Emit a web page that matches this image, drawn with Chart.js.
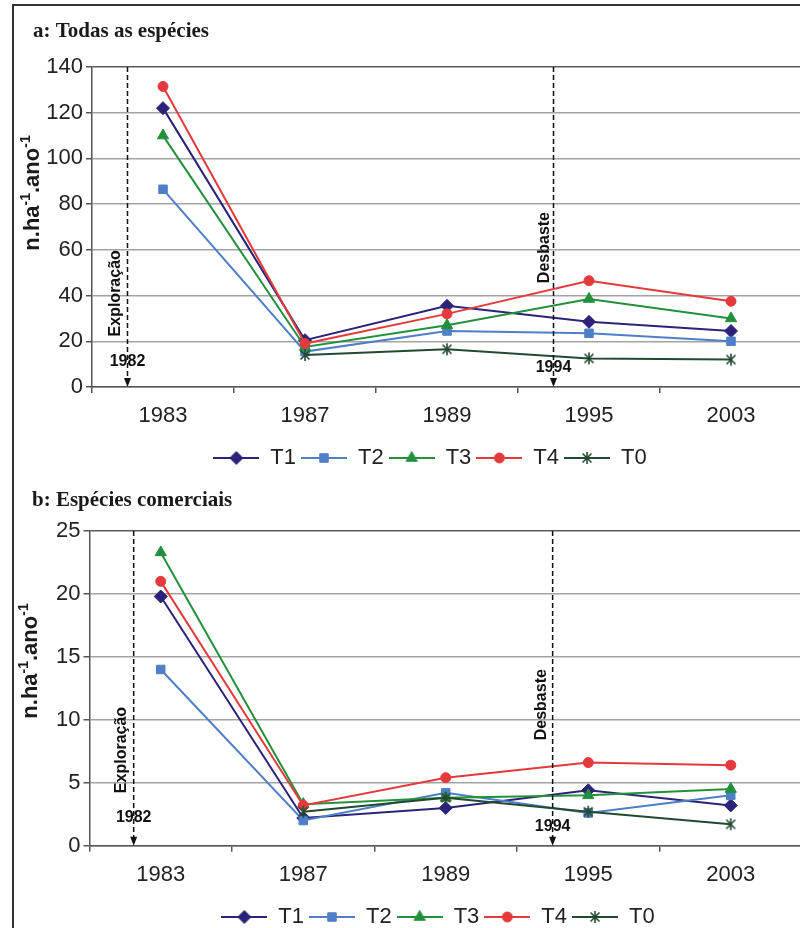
<!DOCTYPE html>
<html>
<head>
<meta charset="utf-8">
<script src="https://cdn.jsdelivr.net/npm/chart.js@4.4.1/dist/chart.umd.min.js"></script>
<style>
  html, body { margin: 0; padding: 0; width: 800px; height: 928px; overflow: hidden; background: #fff; }
  #frame { position: absolute; left: 12px; top: 4px; width: 1000px; height: 1000px;
           border-left: 2px solid #333; border-top: 2px solid #333; }
  canvas { position: absolute; left: 0; top: 0; }
</style>
</head>
<body>
<div id="frame"></div>
<canvas id="chartA" width="860" height="484"></canvas>
<canvas id="chartB" width="860" height="943"></canvas>
<script>
// Survey years (categories)
const years = ['1983', '1987', '1989', '1995', '2003'];
const seriesNames = ['T1', 'T2', 'T3', 'T4', 'T0'];

// a: Todas as espécies (n.ha-1.ano-1)
const allT1 = [122, 20.5, 35.5, 28.5, 24.5];
const allT2 = [86.5, 15.5, 24.5, 23.5, 20];
const allT3 = [110, 17.5, 27, 38.5, 30];
const allT4 = [131.5, 19, 32, 46.5, 37.5];
const allT0 = [null, 14, 16.5, 12.5, 12];
const allTicks = [0, 20, 40, 60, 80, 100, 120, 140];

// b: Espécies comerciais (n.ha-1.ano-1)
const comT1 = [19.8, 2.2, 3.0, 4.4, 3.2];
const comT2 = [14.0, 2.0, 4.2, 2.6, 4.0];
const comT3 = [23.3, 3.3, 3.8, 4.0, 4.5];
const comT4 = [21.0, 3.2, 5.4, 6.6, 6.4];
const comT0 = [null, 2.7, 3.8, 2.7, 1.7];
const comTicks = [0, 5, 10, 15, 20, 25];

// Interventions
const eventYears = ['1982', '1994'];
const eventNames = ['Exploração', 'Desbaste'];

const FONT = 'Liberation Sans';

// Six-armed asterisk marker for T0
function asterisk(color, r) {
  const s = Math.ceil(r * 2 + 4);
  const c = document.createElement('canvas');
  c.width = s; c.height = s;
  const g = c.getContext('2d');
  g.strokeStyle = color; g.lineWidth = 1.6; g.lineCap = 'butt';
  const m = s / 2;
  g.beginPath();
  g.moveTo(m, m - r); g.lineTo(m, m + r);
  const d = r * Math.SQRT1_2 * 1.05;
  g.moveTo(m - d, m - d); g.lineTo(m + d, m + d);
  g.moveTo(m - d, m + d); g.lineTo(m + d, m - d);
  g.stroke();
  return c;
}

const seriesStyle = [
  { color: '#2a2379', point: 'rectRot', r: 6.5 },
  { color: '#4f7fc6', point: 'rect', r: 6 },
  { color: '#23903c', point: 'triangle', r: 6.5 },
  { color: '#e53a3c', point: 'circle', r: 5 },
  { color: '#234a31', point: null, r: 6 }
];
seriesStyle[4].point = asterisk(seriesStyle[4].color, seriesStyle[4].r);

// Legend swatch: a short line with the series marker in the middle
function makeIcon(st) {
  const c = document.createElement('canvas');
  c.width = 46; c.height = 16;
  const g = c.getContext('2d');
  g.strokeStyle = st.color; g.fillStyle = st.color; g.lineWidth = 2;
  g.beginPath(); g.moveTo(0, 8); g.lineTo(46, 8); g.stroke();
  g.lineWidth = 1;
  if (typeof st.point === 'string') {
    Chart.helpers.drawPoint(g, { pointStyle: st.point, radius: st.r, rotation: 0, borderWidth: 1 }, 23, 8);
  } else {
    g.drawImage(st.point, 23 - st.point.width / 2, 8 - st.point.height / 2);
  }
  return c;
}

function makeDatasets(values) {
  return values.map((v, i) => {
    const st = seriesStyle[i];
    return {
      label: seriesNames[i],
      data: v,
      borderColor: st.color,
      backgroundColor: st.color,
      borderWidth: 2,
      pointStyle: st.point,
      pointRadius: st.r,
      pointBorderWidth: 1,
      pointBackgroundColor: st.color,
      pointBorderColor: st.color,
      spanGaps: false,
      tension: 0,
      order: 4 - i
    };
  });
}

// Title, rotated y-axis title with superscripts, intervention markers, legend offset
function decorPlugin(cfg) {
  return {
    id: 'decor',
    afterLayout(chart) {
      if (chart.legend) {
        chart.legend.left += cfg.legendDx;
        chart.legend.right += cfg.legendDx;
      }
    },
    afterDatasetsDraw(chart) {
      const { ctx, chartArea, scales } = chart;
      const x = scales.x, y = scales.y;
      ctx.save();
      cfg.marks.forEach(m => {
        const px = x.getPixelForValue(m.at);
        const bottom = chartArea.bottom;
        // dashed line with arrow head
        ctx.strokeStyle = '#111'; ctx.lineWidth = 1.5;
        ctx.setLineDash([5, 3]);
        ctx.beginPath(); ctx.moveTo(px, chartArea.top); ctx.lineTo(px, bottom - 8); ctx.stroke();
        ctx.setLineDash([]);
        ctx.fillStyle = '#111';
        ctx.beginPath(); ctx.moveTo(px - 3.5, bottom - 9); ctx.lineTo(px + 3.5, bottom - 9); ctx.lineTo(px, bottom); ctx.closePath(); ctx.fill();
        // year
        ctx.font = 'bold 16px "' + FONT + '"';
        ctx.textAlign = 'center'; ctx.textBaseline = 'middle';
        ctx.fillText(m.year, px, bottom - m.yearLift);
        // rotated name
        ctx.save();
        ctx.translate(px + m.nameDx, y.getPixelForValue(m.nameAt));
        ctx.rotate(-Math.PI / 2);
        ctx.fillText(m.name, 0, 0);
        ctx.restore();
      });
      ctx.restore();
    },
    afterDraw(chart) {
      const ctx = chart.ctx;
      ctx.save();
      ctx.fillStyle = '#1a1a1a';
      ctx.font = 'bold 21px "Liberation Serif"';
      ctx.textAlign = 'left'; ctx.textBaseline = 'alphabetic';
      ctx.fillText(cfg.title, cfg.titleX, cfg.titleY);
      // y-axis title: n.ha-1.ano-1
      const parts = [['n.ha', false], ['-1', true], ['.ano', false], ['-1', true]];
      const big = 'bold 22px "' + FONT + '"', small = 'bold 14px "' + FONT + '"';
      let total = 0;
      parts.forEach(p => { ctx.font = p[1] ? small : big; total += ctx.measureText(p[0]).width; });
      ctx.translate(cfg.yTitleX, cfg.yTitleY);
      ctx.rotate(-Math.PI / 2);
      let cx = -total / 2;
      parts.forEach(p => {
        ctx.font = p[1] ? small : big;
        ctx.fillText(p[0], cx, p[1] ? -9 : 0);
        cx += ctx.measureText(p[0]).width;
      });
      ctx.restore();
    }
  };
}

function makeChart(id, values, ticks, layout, deco) {
  const icons = seriesStyle.map(makeIcon);
  const top = ticks[ticks.length - 1];
  return new Chart(document.getElementById(id), {
    type: 'line',
    data: { labels: years, datasets: makeDatasets(values) },
    options: {
      responsive: false,
      animation: false,
      devicePixelRatio: 1,
      layout: { padding: layout.padding },
      plugins: {
        tooltip: { enabled: false },
        title: { display: false },
        legend: {
          position: 'bottom',
          labels: {
            usePointStyle: true,
            pointStyleWidth: 46,
            padding: 5,
            color: '#222',
            font: { size: 22, family: FONT },
            generateLabels: () => seriesNames.map((n, i) => ({
              text: n, pointStyle: icons[i], fillStyle: seriesStyle[i].color,
              strokeStyle: seriesStyle[i].color, lineWidth: 0, hidden: false,
              datasetIndex: i, fontColor: '#222'
            }))
          }
        }
      },
      scales: {
        x: {
          type: 'category',
          offset: true,
          grid: { display: true, drawOnChartArea: false, drawTicks: true, tickLength: 6, offset: true, color: '#555', lineWidth: 1.5 },
          border: { display: true, color: '#555', width: 1.5 },
          ticks: { color: '#222', font: { size: 22, family: FONT }, padding: 10, maxRotation: 0, autoSkip: false },
          afterFit(s) { s.height = layout.xHeight; }
        },
        y: {
          min: ticks[0], max: top,
          afterBuildTicks(s) { s.ticks = ticks.map(v => ({ value: v })); },
          grid: {
            color: c => (c.tick && c.tick.value === top) ? '#5a5a5a' : '#a3a3a3',
            lineWidth: 1.5, tickLength: 6, drawTicks: true, tickColor: '#555'
          },
          border: { display: true, color: '#555', width: 1.5 },
          ticks: { color: '#222', font: { size: 22, family: FONT }, padding: 3 },
          afterFit(s) { s.width = layout.yWidth; }
        }
      }
    },
    plugins: [decorPlugin(deco)]
  });
}

makeChart('chartA', [allT1, allT2, allT3, allT4, allT0], allTicks,
  { padding: { left: 0, right: 58, top: 67, bottom: 5 }, xHeight: 55, yWidth: 92 },
  {
    title: 'a: Todas as espécies', titleX: 33, titleY: 37, yTitleX: 39, yTitleY: 193, legendDx: 29,
    marks: [
      { year: eventYears[0], name: eventNames[0], at: -0.25, yearLift: 25, nameDx: -12, nameAt: 41 },
      { year: eventYears[1], name: eventNames[1], at: 2.75, yearLift: 19, nameDx: -9, nameAt: 61 }
    ]
  });

makeChart('chartB', [comT1, comT2, comT3, comT4, comT0], comTicks,
  { padding: { left: 0, right: 58, top: 531, bottom: 5 }, xHeight: 55.3, yWidth: 89.5 },
  {
    title: 'b: Espécies comerciais', titleX: 32, titleY: 506, yTitleX: 37, yTitleY: 661, legendDx: 37,
    marks: [
      { year: eventYears[0], name: eventNames[0], at: -0.19, yearLift: 28, nameDx: -12.5, nameAt: 7.6 },
      { year: eventYears[1], name: eventNames[1], at: 2.75, yearLift: 19, nameDx: -11, nameAt: 11.2 }
    ]
  });
</script>
</body>
</html>
